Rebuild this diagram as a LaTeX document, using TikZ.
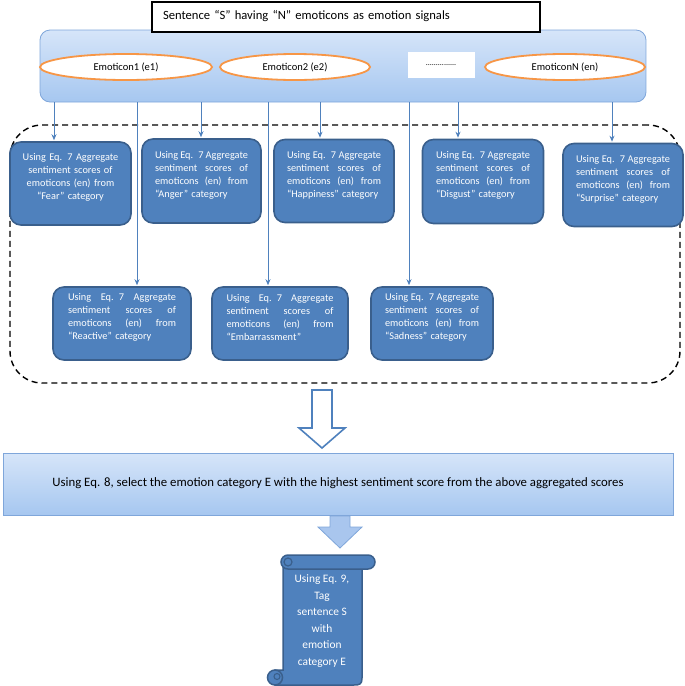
\documentclass[tikz,border=0pt]{standalone}
\usepackage{fontspec}
\setmainfont{Carlito}
\usetikzlibrary{arrows.meta,shapes.geometric,calc}
\definecolor{obox}{HTML}{4F81BD}
\definecolor{obord}{HTML}{3A5F8C}
\definecolor{lineb}{HTML}{4F81BD}
\definecolor{eorange}{HTML}{F79646}
\definecolor{bluebd}{HTML}{7FA6DA}
\definecolor{bartop}{HTML}{D6E5F9}
\definecolor{barbot}{HTML}{A6C7F0}
\definecolor{arrfill}{HTML}{A9C6EE}
\newcommand{\myPadEnd}{\endgraf\vspace*{12pt}}
\newcommand{\jline}[1]{\noindent\hbox to \hsize{\spaceskip=0pt plus 1fil\relax #1}\endgraf}
\begin{document}
\begin{tikzpicture}[x=1pt,y=-1pt,
  catbox/.style={draw=obord, line width=1.6pt, fill=obox, rounded corners=11pt, text=white,
    font=\fontsize{10.3}{12.9}\selectfont, align=left, inner sep=3pt,
    execute at end node=\myPadEnd},
  conn/.style={draw=lineb, line width=0.9pt, -{Stealth[length=6pt,width=5pt]}, shorten >=1pt},
  emo/.style={ellipse, draw=eorange, line width=1.8pt, fill=white, minimum height=26pt,
    font=\fontsize{10.5}{12}\selectfont, inner sep=0pt},
  gradbox/.style={draw=bluebd, line width=0.8pt, top color=bartop, bottom color=barbot},
]
\useasboundingbox (0,0) rectangle (685,686);

% emoticon bar
\node[gradbox, rounded corners=10pt, minimum width=606pt, minimum height=72pt] (emobar) at (343,66) {};
\node[draw=black, line width=2pt, fill=white, minimum width=388pt, minimum height=30pt,
  text width=366pt, align=left, font=\fontsize{12.6}{14}\selectfont] (sent) at (346,16.5)
  {Sentence “S” having “N” emoticons as emotion signals};
\node[emo, minimum width=172pt] (e1) at (126,67) {Emoticon1 (e1)};
\node[emo, minimum width=150pt] (e2) at (295,67) {Emoticon2 (e2)};
\node[fill=white, minimum width=67pt, minimum height=26pt, inner sep=0pt,
  font=\fontsize{8}{9}\selectfont] (dots) at (441,65) {...............};
\node[emo, minimum width=160pt] (en) at (565,67) {EmoticonN (en)};

% dashed frame
\node[draw=black, line width=1.4pt, dash pattern=on 6pt off 4pt, rounded corners=32pt,
  minimum width=670pt, minimum height=258pt] (frame) at (345,254) {};

% category boxes, row 1
\node[catbox, align=center, minimum width=121pt, minimum height=83pt, text width=100pt] (fear) at (70.5,183.5)
  {Using Eq. 7 Aggregate\\sentiment scores of\\emoticons (en) from\\“Fear” category};
\node[catbox, minimum width=119pt, minimum height=84pt, text width=93pt] (anger) at (201.5,181)
  {\jline{Using Eq. 7 Aggregate}\jline{sentiment scores of}\jline{emoticons (en) from}\noindent “Anger” category};
\node[catbox, minimum width=120pt, minimum height=83pt, text width=94pt] (happy) at (334,181)
  {\jline{Using Eq. 7 Aggregate}\jline{sentiment scores of}\jline{emoticons (en) from}\noindent “Happiness” category};
\node[catbox, minimum width=121pt, minimum height=84pt, text width=94pt] (disg) at (483,181.5)
  {\jline{Using Eq. 7 Aggregate}\jline{sentiment scores of}\jline{emoticons (en) from}\noindent “Disgust” category};
\node[catbox, minimum width=120pt, minimum height=83pt, text width=94pt] (surp) at (623,185)
  {\jline{Using Eq. 7 Aggregate}\jline{sentiment scores of}\jline{emoticons (en) from}\noindent “Surprise” category};
% row 2
\node[catbox, minimum width=138pt, minimum height=73pt, text width=108pt] (react) at (122,323.5)
  {\jline{Using Eq. 7 Aggregate}\jline{sentiment scores of}\jline{emoticons (en) from}\noindent “Reactive” category};
\node[catbox, minimum width=136pt, minimum height=73pt, text width=107pt] (embar) at (280,323.5)
  {\jline{Using Eq. 7 Aggregate}\jline{sentiment scores of}\jline{emoticons (en) from}\noindent “Embarrassment”};
\node[catbox, minimum width=122pt, minimum height=73pt, text width=94pt] (sad) at (432,323.5)
  {\jline{Using Eq. 7 Aggregate}\jline{sentiment scores of}\jline{emoticons (en) from}\noindent “Sadness” category};

% connectors
\draw[conn] (emobar.south -| 54,0) -- (fear.north -| 54,0);
\draw[conn] (emobar.south -| 137,0) -- (react.north -| 137,0);
\draw[conn] (emobar.south -| 201,0) -- (anger.north -| 201,0);
\draw[conn] (emobar.south -| 268,0) -- (embar.north -| 268,0);
\draw[conn] (emobar.south -| 320,0) -- (happy.north -| 320,0);
\draw[conn] (emobar.south -| 409,0) -- (sad.north -| 409,0);
\draw[conn] (emobar.south -| 458,0) -- (disg.north -| 458,0);
\draw[conn] (emobar.south -| 612,0) -- (surp.north -| 612,0);

% selection box
\node[gradbox, minimum width=670pt, minimum height=62pt, font=\fontsize{12.8}{14}\selectfont] (sel) at (338,484)
  {\raisebox{4pt}{Using Eq. 8, select the emotion category E with the highest sentiment score from the above aggregated scores}};

% hollow block arrow
\draw[draw=obox, line width=1.6pt, fill=white, line join=miter]
  (312,390) -- (332,390) -- (332,428) -- (345,428) -- (322,448) -- (299,428) -- (312,428) -- cycle;

% filled block arrow
\draw[draw=bluebd, line width=0.8pt, fill=arrfill]
  (330,516) -- (350,516) -- (350,527) -- (362,527) -- (340,548) -- (318,527) -- (330,527) -- cycle;

% scroll
\draw[draw=obord, line width=1.5pt, fill=obox]
  (283,562) -- (362,562) -- (362,678) .. controls (362,684) and (360,685) .. (354,685) -- (275,685) -- (275,670) -- (283,670) -- cycle;
\draw[draw=obord, line width=1.5pt, fill=obox, rounded corners=7pt] (281,555) rectangle (375,569);
\draw[draw=obord, line width=1.2pt] (288,562) circle (4);
\draw[draw=obord, line width=1.5pt, fill=obox] (275,677.5) circle (7.5);
\draw[draw=obord, line width=1.1pt] (277,676.5) circle (3);
\node[text=white, align=center, font=\fontsize{11.4}{16.6}\selectfont] (tag) at (322,621)
  {Using Eq. 9,\\Tag\\sentence S\\with\\emotion\\category E};
\end{tikzpicture}
\end{document}
